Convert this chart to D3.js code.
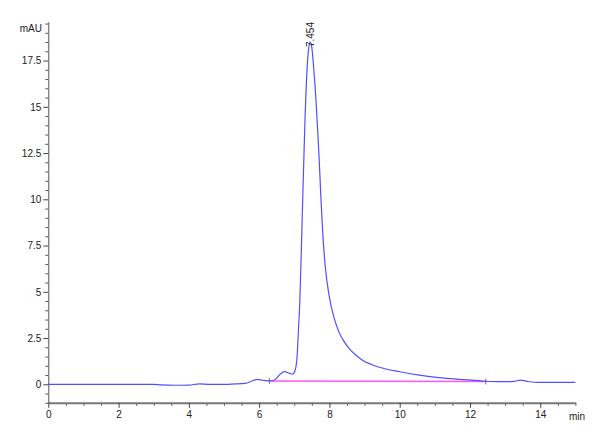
<!DOCTYPE html>
<html>
<head>
<meta charset="utf-8">
<script src="https://cdn.jsdelivr.net/npm/d3@7"></script>
<style>
  body { margin: 0; background: #fff; }
  svg { display: block; font-family: "Liberation Sans", Arial, sans-serif; }
</style>
</head>
<body>
<svg id="chart" width="600" height="440"></svg>
<script>
// chromatogram trace (time in min, signal in mAU)
var times = [0, 1, 2, 3, 3.2, 3.6, 4.0, 4.3, 4.6, 5.0, 5.3, 5.6, 5.8, 5.95, 6.1, 6.29, 6.45, 6.6, 6.72, 6.85, 6.95,
  7.03, 7.08, 7.12, 7.16, 7.20, 7.24, 7.30, 7.36, 7.42, 7.454, 7.50, 7.56, 7.62, 7.70, 7.76, 7.81, 7.88,
  8.0, 8.14, 8.28, 8.4, 8.57, 8.75, 8.94, 9.2, 9.42, 10.0, 10.56, 11.12, 11.69, 12.26, 12.54, 13.0, 13.25, 13.44, 13.65, 13.96, 15.0];
var signal = [0, 0, 0, 0, -0.03, -0.05, -0.04, 0.02, 0, 0, 0.02, 0.05, 0.18, 0.27, 0.22, 0.18, 0.25, 0.55, 0.68, 0.6, 0.55,
  0.8, 1.5, 3.0, 4.6, 7.2, 10.0, 14.0, 16.9, 18.3, 18.5, 18.2, 16.9, 15.3, 12.5, 10.0, 8.2, 6.4,
  4.7, 3.55, 2.78, 2.36, 1.92, 1.58, 1.3, 1.07, 0.92, 0.68, 0.5, 0.36, 0.27, 0.2, 0.15, 0.14, 0.16, 0.23, 0.15, 0.1, 0.1];

// integration baseline of the peak
var baseTimes = [6.29, 12.45];
var baseValues = [0.18, 0.15];

var peakTime = 7.454, peakValue = 18.5, peakLabel = "7.454";

var xTicks = [0, 2, 4, 6, 8, 10, 12, 14];
var yTicks = [0, 2.5, 5, 7.5, 10, 12.5, 15, 17.5];

var svg = d3.select("#chart");

var x = d3.scaleLinear().domain([0, 15]).range([48.3, 575.4]);
var y = d3.scaleLinear().domain([-1, 19.6]).range([402.8, 21.7]);

var minorX = d3.range(0, 15.01, 0.5).filter(function(d){ return xTicks.indexOf(d) < 0; });
var minorY = d3.range(-1, 19.51, 0.5).filter(function(d){ return yTicks.indexOf(d) < 0; });

// minor ticks
svg.append("g")
    .attr("transform", "translate(0," + y(-1) + ")")
    .call(d3.axisBottom(x).tickValues(minorX).tickSize(3).tickFormat(""))
    .call(function(g){ g.select(".domain").remove(); })
    .selectAll("line").attr("stroke", "#555");

svg.append("g")
    .attr("transform", "translate(" + x(0) + ",0)")
    .call(d3.axisLeft(y).tickValues(minorY).tickSize(3).tickFormat(""))
    .call(function(g){ g.select(".domain").remove(); })
    .selectAll("line").attr("stroke", "#555");

// major ticks
var xAxis = svg.append("g")
    .attr("transform", "translate(0," + y(-1) + ")")
    .call(d3.axisBottom(x).tickValues(xTicks).tickSize(5).tickSizeOuter(0).tickPadding(3).tickFormat(d3.format("d")));
xAxis.select(".domain").attr("stroke", "#777").attr("stroke-width", 2);
xAxis.selectAll("line").attr("stroke", "#444");
xAxis.selectAll("text").attr("font-size", 10).attr("fill", "#222");

var yAxis = svg.append("g")
    .attr("transform", "translate(" + x(0) + ",0)")
    .call(d3.axisLeft(y).tickValues(yTicks).tickSize(5).tickSizeOuter(0).tickPadding(2).tickFormat(function(d){ return d; }));
yAxis.select(".domain").attr("stroke", "#555");
yAxis.selectAll("line").attr("stroke", "#444");
yAxis.selectAll("text").attr("font-size", 10).attr("fill", "#222");

svg.append("text")
    .attr("x", 42).attr("y", 32)
    .attr("text-anchor", "end")
    .attr("font-size", 10).attr("fill", "#222")
    .text("mAU");

svg.append("text")
    .attr("x", 585).attr("y", 420)
    .attr("text-anchor", "end")
    .attr("font-size", 10).attr("fill", "#222")
    .text("min");

// baseline
var baseData = baseTimes.map(function(t, i){ return [t, baseValues[i]]; });
svg.append("path")
    .datum(baseData)
    .attr("fill", "none")
    .attr("stroke", "#ff55ff")
    .attr("stroke-width", 1.5)
    .attr("d", d3.line().x(function(d){ return x(d[0]); }).y(function(d){ return y(d[1]); }));

svg.selectAll(".bmark")
    .data(baseData)
    .enter().append("line")
    .attr("class", "bmark")
    .attr("x1", function(d){ return x(d[0]); })
    .attr("x2", function(d){ return x(d[0]); })
    .attr("y1", function(d){ return y(d[1]) - 3; })
    .attr("y2", function(d){ return y(d[1]) + 3; })
    .attr("stroke", "#777");

// trace
var trace = times.map(function(t, i){ return [t, signal[i]]; });
svg.append("path")
    .datum(trace)
    .attr("fill", "none")
    .attr("stroke", "#5050ff")
    .attr("stroke-width", 1.2)
    .attr("d", d3.line().curve(d3.curveMonotoneX)
      .x(function(d){ return x(d[0]); })
      .y(function(d){ return y(d[1]); }));

// peak label
svg.append("text")
    .attr("transform", "translate(" + (x(peakTime) + 3.5) + "," + (y(peakValue) + 5) + ") rotate(-90)")
    .attr("font-size", 10).attr("fill", "#222")
    .text(peakLabel);
</script>
</body>
</html>
